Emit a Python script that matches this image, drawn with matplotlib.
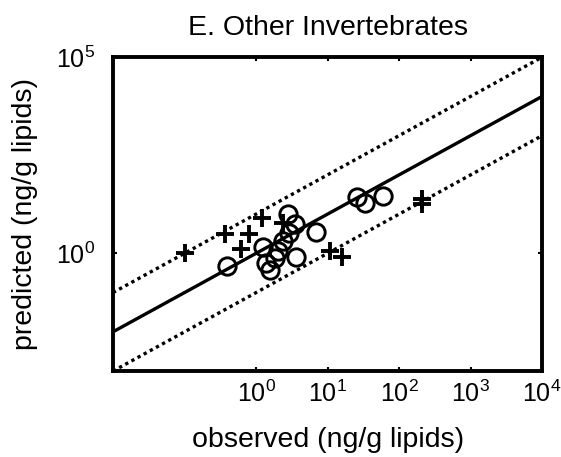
import numpy as np
import matplotlib
matplotlib.use('Agg')
import matplotlib.pyplot as plt
from matplotlib.ticker import NullLocator

plt.rcParams['font.family'] = ['Liberation Sans', 'DejaVu Sans']
plt.rcParams['mathtext.fontset'] = 'custom'
plt.rcParams['mathtext.rm'] = 'Liberation Sans'
plt.rcParams['mathtext.it'] = 'Liberation Sans'
plt.rcParams['mathtext.bf'] = 'Liberation Sans'

# circles
circ_obs = [0.39, 1.25, 1.38, 1.57, 1.84, 2.03, 2.38, 2.89, 2.80, 3.51, 3.62, 6.89, 25.8, 33.3, 59.4]
circ_pred = [0.49, 1.42, 0.56, 0.37, 0.75, 1.12, 2.02, 3.24, 9.86, 5.48, 0.79, 3.43, 26.7, 18.8, 28.3]

# pluses
plus_obs = [0.10, 0.37, 0.80, 1.21, 0.62, 2.38, 10.8, 15.9, 208, 208]
plus_pred = [1.00, 3.05, 3.05, 7.80, 1.26, 5.80, 1.12, 0.79, 23.8, 17.7]

# reference lines: 1:1 and factor of 10 either side
line_x = [1e-2, 1e4]
factors = [1, 10, 0.1]
styles = ['-', (0, (1, 1.1)), (0, (1, 1.1))]

xticks = [1, 10, 100, 1000, 10000]
yticks = [1, 1e5]

fig = plt.figure(figsize=(5.61, 4.57), dpi=100)
ax = fig.add_axes([0.2014, 0.188, 0.765, 0.687])

for f, ls in zip(factors, styles):
    ax.plot(line_x, [v * f for v in line_x], color='black', lw=2.4, linestyle=ls)

ax.plot(circ_obs, circ_pred, 'o', ms=12.5, mfc='none', mec='black', mew=2.1)
ax.plot(plus_obs, plus_pred, '+', ms=13, mec='black', mew=2.8)

ax.set_xscale('log')
ax.set_yscale('log')
ax.set_xlim(1e-2, 1e4)
ax.set_ylim(1e-3, 1e5)
ax.set_xticks(xticks)
ax.set_yticks(yticks)
ax.xaxis.set_minor_locator(NullLocator())
ax.yaxis.set_minor_locator(NullLocator())

ax.tick_params(which='major', direction='in', top=True, right=True,
               length=3, width=1.5, labelsize=18)
ax.tick_params(axis='x', pad=7)
ax.tick_params(axis='y', pad=13)
for s in ax.spines.values():
    s.set_linewidth(2.8)

ax.set_title('E. Other Invertebrates', fontsize=20.5, pad=16)
ax.set_xlabel('observed (ng/g lipids)', fontsize=20.5, labelpad=14)
ax.set_ylabel('predicted (ng/g lipids)', fontsize=20.5, labelpad=13)

fig.savefig('out.png', dpi=100)
